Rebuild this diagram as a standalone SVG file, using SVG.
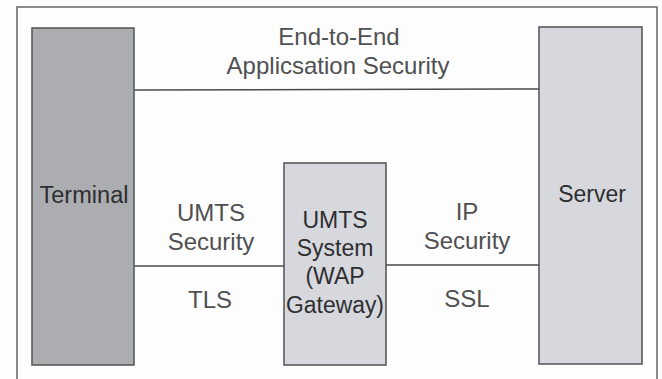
<svg xmlns="http://www.w3.org/2000/svg" width="662" height="379" viewBox="0 0 662 379">
  <style>
    .box { stroke: #5a5a5c; stroke-width: 1.6; }
    .dark { fill: #acadb1; }
    .light { fill: #d6d8de; }
    .link { stroke: #4a4a4c; stroke-width: 1.5; fill: none; }
    .lbl { font-family: "Liberation Sans", Arial, sans-serif; font-size: 24px; fill: #505052; text-anchor: middle; }
    .name { font-family: "Liberation Sans", Arial, sans-serif; font-size: 23px; fill: #2e2e30; text-anchor: middle; }
  </style>
  <rect width="662" height="379" fill="#fdfdfd"/>
  <!-- outer frame, open at the bottom edge -->
  <rect x="17" y="7" width="640" height="380" fill="none" stroke="#5a5a5c" stroke-width="1.4"/>

  <g id="connectors">
    <line class="link" x1="134" y1="90" x2="539" y2="89"/>
    <line class="link" x1="134" y1="266" x2="284" y2="266"/>
    <line class="link" x1="386" y1="265" x2="539" y2="265"/>
  </g>

  <g id="terminal">
    <rect class="box dark" x="32" y="28" width="102" height="337"/>
    <text class="name" x="84" y="203" textLength="89" lengthAdjust="spacingAndGlyphs">Terminal</text>
  </g>

  <g id="server">
    <rect class="box light" x="539" y="27" width="103" height="337"/>
    <text class="name" x="592" y="202">Server</text>
  </g>

  <g id="gateway">
    <rect class="box light" x="284" y="163" width="102" height="202"/>
    <text class="name" x="335" y="228">UMTS</text>
    <text class="name" x="335" y="256">System</text>
    <text class="name" x="335" y="284">(WAP</text>
    <text class="name" x="335" y="313" textLength="98" lengthAdjust="spacingAndGlyphs">Gateway)</text>
  </g>

  <g id="labels">
    <text class="lbl" x="339" y="45">End-to-End</text>
    <text class="lbl" x="338" y="74">Applicsation Security</text>
    <text class="lbl" x="211" y="221">UMTS</text>
    <text class="lbl" x="211" y="250">Security</text>
    <text class="lbl" x="210" y="308">TLS</text>
    <text class="lbl" x="467" y="220">IP</text>
    <text class="lbl" x="467" y="249">Security</text>
    <text class="lbl" x="467" y="307">SSL</text>
  </g>
</svg>
